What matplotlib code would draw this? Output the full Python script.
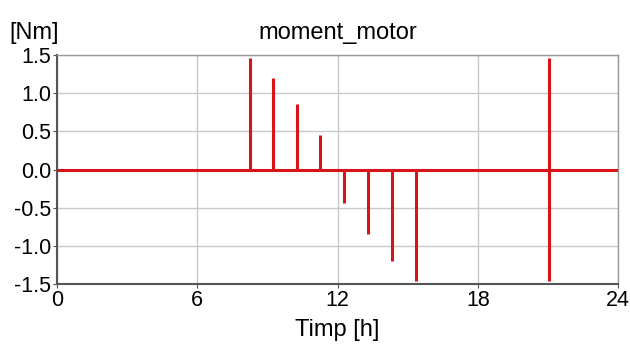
import matplotlib
matplotlib.use("Agg")
import matplotlib.pyplot as plt

plt.rcParams['font.family'] = ['Liberation Sans', 'DejaVu Sans']

# motor torque pulses over one day
spike_t = [8.25, 9.25, 10.25, 11.25, 12.28, 13.3, 14.33, 15.35, 21.05, 21.05]
spike_v = [1.46, 1.2, 0.86, 0.45, -0.44, -0.84, -1.2, -1.46, 1.46, -1.46]
x_ticks = [0, 6, 12, 18, 24]
y_ticks = [-1.5, -1.0, -0.5, 0.0, 0.5, 1.0, 1.5]

red = '#d7141a'

fig = plt.figure(figsize=(6.3, 3.45), dpi=100)
ax = fig.add_axes([57 / 630, 1 - 284 / 345, 561 / 630, 229 / 345])

ax.axhline(0, color=red, lw=2.2, zorder=3)
ax.vlines(spike_t, 0, spike_v, color=red, lw=2.2, zorder=3)

ax.set_xlim(0, 24)
ax.set_ylim(-1.5, 1.5)
ax.set_xticks(x_ticks)
ax.set_yticks(y_ticks)
ax.set_yticklabels([f'{v:.1f}' for v in y_ticks])
ax.grid(True, color='#c8c8c8', lw=1)
ax.set_axisbelow(True)
ax.tick_params(labelsize=15.5, length=3, color='#555555', pad=1)
ax.tick_params(axis='x', pad=1)

for side in ['left', 'bottom']:
    ax.spines[side].set_color('#555555')
    ax.spines[side].set_linewidth(1.5)
for side in ['top', 'right']:
    ax.spines[side].set_color('#999999')
    ax.spines[side].set_linewidth(1)

fig.text(338 / 630, 1 - 33 / 345, 'moment_motor', ha='center', va='center', fontsize=17)
fig.text(9 / 630, 1 - 33 / 345, '[Nm]', ha='left', va='center', fontsize=17)
fig.text(337 / 630, 1 - 330 / 345, 'Timp [h]', ha='center', va='center', fontsize=17)

fig.savefig('out.png', dpi=100)
